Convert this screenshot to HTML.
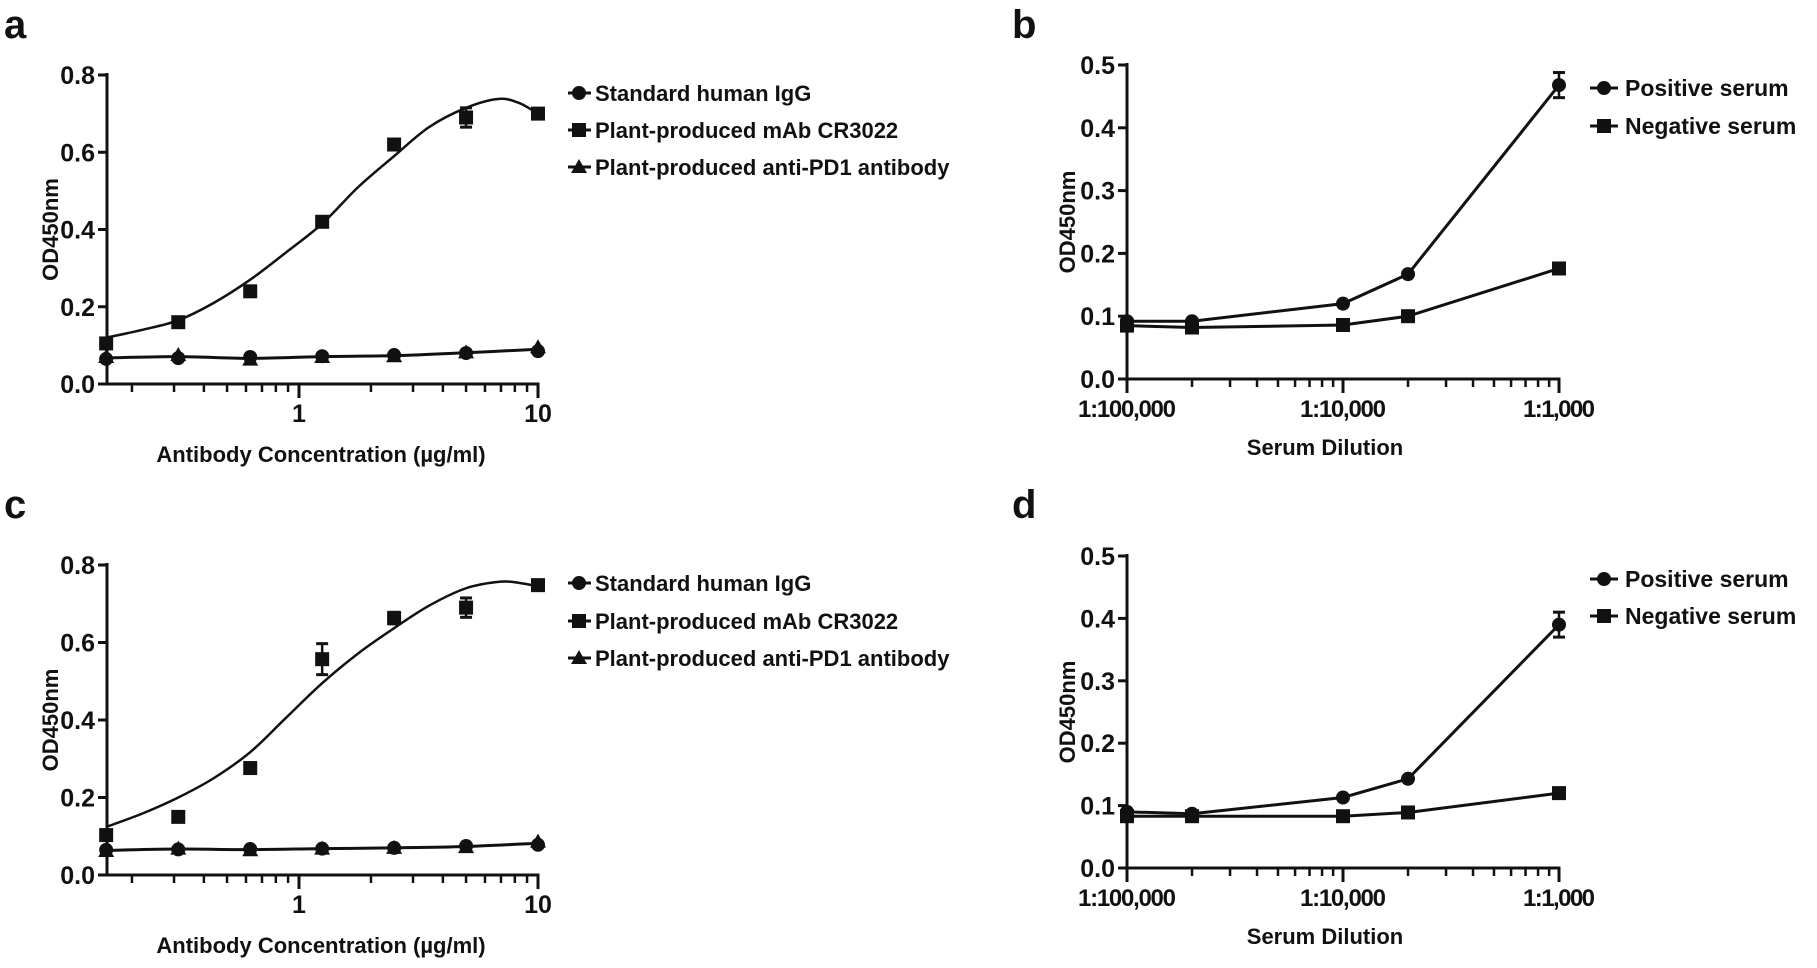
<!DOCTYPE html>
<html><head><meta charset="utf-8">
<style>
html,body{margin:0;padding:0;background:#fff;}
svg{display:block;}
text{font-family:"Liberation Sans",Arial,sans-serif;font-weight:bold;fill:#111;}
</style></head>
<body>
<svg id="s" width="1817" height="968" viewBox="0 0 1817 968" xmlns="http://www.w3.org/2000/svg"></svg>
<script>
const S=document.getElementById('s');let h='';
function T(x,y,t,sz,anc,extra){h+=`<text x="${x}" y="${y}" font-size="${sz}" text-anchor="${anc||'start'}" ${extra||''}>${t}</text>`;}
function L(x1,y1,x2,y2,w){h+=`<line x1="${x1}" y1="${y1}" x2="${x2}" y2="${y2}" stroke="#111" stroke-width="${w||3}"/>`;}
function marker(t,x,y){
 if(t=='c')h+=`<circle cx="${x}" cy="${y}" r="7" fill="#111"/>`;
 else if(t=='s')h+=`<rect x="${x-7}" y="${y-7}" width="14" height="14" fill="#111"/>`;
 else h+=`<polygon points="${x},${y-8} ${x+8},${y+6} ${x-8},${y+6}" fill="#111"/>`;
}
function smooth(pts){let d=`M${pts[0][0]},${pts[0][1]}`;
 for(let i=0;i<pts.length-1;i++){const p0=pts[Math.max(0,i-1)],p1=pts[i],p2=pts[i+1],p3=pts[Math.min(pts.length-1,i+2)];
  d+=` C${p1[0]+(p2[0]-p0[0])/6},${p1[1]+(p2[1]-p0[1])/6} ${p2[0]-(p3[0]-p1[0])/6},${p2[1]-(p3[1]-p1[1])/6} ${p2[0]},${p2[1]}`;}
 return d;}
function pth(d,w){h+=`<path d="${d}" fill="none" stroke="#111" stroke-width="${w||2.5}"/>`;}

function panelA(top,y0,ytop,sq,sqerr,curve,circ,tri,lab,legY){
 const ax=107,x1=299,dec=239;const X=v=>x1+Math.log10(v)*dec;const Y=v=>y0-(y0-ytop)*v/0.8;
 T(4,top,lab,40,'start');
 L(ax,ytop-2,ax,y0+1.5);L(ax,y0,X(10)+1.5,y0);
 for(let i=0;i<=4;i++){const v=i*0.2;L(ax-9,Y(v),ax,Y(v));T(ax-12,Y(v)+9,v.toFixed(1),25,'end');}
 for(let k=2;k<=9;k++){const v1=k/10;if(X(v1)>ax+2)L(X(v1),y0,X(v1),y0+8,2.5);L(X(k),y0,X(k),y0+8,2.5);}
 L(X(1),y0,X(1),y0+14);L(X(10),y0,X(10),y0+14);
 T(X(1),y0+38,'1',25,'middle');T(X(10),y0+38,'10',25,'middle');
 T(321,y0+78,'Antibody Concentration (µg/ml)',22,'middle');
 T(0,0,'OD450nm',22,'middle',`transform="translate(58 ${(y0+ytop)/2}) rotate(-90)"`);
 const xs=[0.156,0.3125,0.625,1.25,2.5,5,10];
 pth(smooth(curve.map(p=>[X(p[0]),Y(p[1])])));
 pth(smooth(xs.map((x,i)=>[X(x),Y((circ[i]+tri[i])/2)])),3);
 xs.forEach((x,i)=>{marker('c',X(x),Y(circ[i]));marker('t',X(x),Y(tri[i]));marker('s',X(x),Y(sq[i]));
  if(sqerr[i]){const a=Y(sq[i]+sqerr[i]),b=Y(sq[i]-sqerr[i]);L(X(x),a,X(x),b,2.5);L(X(x)-6,a,X(x)+6,a,3);L(X(x)-6,b,X(x)+6,b,3);}});
 const names=['Standard human IgG','Plant-produced mAb CR3022','Plant-produced anti-PD1 antibody'];
 ['c','s','t'].forEach((m,i)=>{const y=legY[i];L(568,y,591,y,3);marker(m,579,y);T(595,y+8,names[i],22);});
}
panelA(38,384,75,[0.105,0.16,0.24,0.42,0.62,0.69,0.70],[0,0,0,0,0,0.025,0],
 [[0.156,0.12],[0.22,0.14],[0.3125,0.165],[0.44,0.21],[0.625,0.27],[0.88,0.34],[1.25,0.415],[1.77,0.51],[2.5,0.59],[3.5,0.665],[5,0.715],[6.8,0.738],[8.3,0.728],[10,0.70]],
 [0.065,0.067,0.07,0.072,0.075,0.08,0.085],[0.07,0.075,0.063,0.07,0.072,0.082,0.095],'a',[93,130,167]);
panelA(518,875,565,[0.103,0.15,0.276,0.557,0.663,0.69,0.748],[0,0,0,0.04,0.015,0.025,0],
 [[0.156,0.124],[0.22,0.158],[0.3125,0.2],[0.44,0.25],[0.625,0.317],[0.88,0.405],[1.25,0.495],[1.77,0.572],[2.5,0.637],[3.5,0.695],[5,0.74],[7,0.757],[8.5,0.753],[10,0.745]],
 [0.065,0.066,0.067,0.068,0.07,0.075,0.078],[0.062,0.068,0.064,0.068,0.07,0.072,0.086],'c',[583,621,658]);

function panelB(top,y0,ytop,pos,perr,neg,lab,legY){
 const ax=1127,dec=216;const X=lg=>ax+(lg+5)*dec;const Y=v=>y0-(y0-ytop)*v/0.5;
 T(1012,top,lab,40,'start');
 L(ax,ytop-2,ax,y0+1.5);L(ax,y0,X(-3)+1.5,y0);
 for(let i=0;i<=5;i++){const v=i*0.1;L(ax-9,Y(v),ax,Y(v));T(ax-12,Y(v)+9,v.toFixed(1),25,'end');}
 for(let d=-5;d<-3;d++)for(let k=2;k<=9;k++)L(X(d+Math.log10(k)),y0,X(d+Math.log10(k)),y0+8,2.5);
 [-5,-4,-3].forEach(d=>L(X(d),y0,X(d),y0+14));
 T(X(-5),y0+38,'1:100,000',24,'middle','textLength="98"');T(X(-4),y0+38,'1:10,000',24,'middle','textLength="86"');T(X(-3),y0+38,'1:1,000',24,'middle','textLength="72"');
 T(1325,y0+76,'Serum Dilution',22,'middle');
 T(0,0,'OD450nm',22,'middle',`transform="translate(1075 ${(y0+ytop)/2}) rotate(-90)"`);
 const xs=[-5,-5+Math.log10(2),-4,-4+Math.log10(2),-3];
 let d='';xs.forEach((x,i)=>d+=(i?'L':'M')+X(x)+','+Y(pos[i]));pth(d,3);
 d='';xs.forEach((x,i)=>d+=(i?'L':'M')+X(x)+','+Y(neg[i]));pth(d,3);
 xs.forEach((x,i)=>{marker('c',X(x),Y(pos[i]));marker('s',X(x),Y(neg[i]));});
 const xe=X(-3),a=Y(pos[4]+perr),b=Y(pos[4]-perr);L(xe,a,xe,b,2.5);L(xe-6,a,xe+6,a,3);L(xe-6,b,xe+6,b,3);
 [['c','Positive serum'],['s','Negative serum']].forEach((m,i)=>{const y=legY[i];L(1590,y,1618,y,3);marker(m[0],1604,y);T(1625,y+8,m[1],23);});
}
panelB(38,379,65,[0.092,0.092,0.12,0.167,0.468],0.02,[0.085,0.082,0.086,0.1,0.176],'b',[88,126]);
panelB(518,868,556,[0.09,0.087,0.113,0.143,0.39],0.02,[0.083,0.083,0.083,0.089,0.12],'d',[579,616]);
S.innerHTML=h;
</script>
</body></html>
